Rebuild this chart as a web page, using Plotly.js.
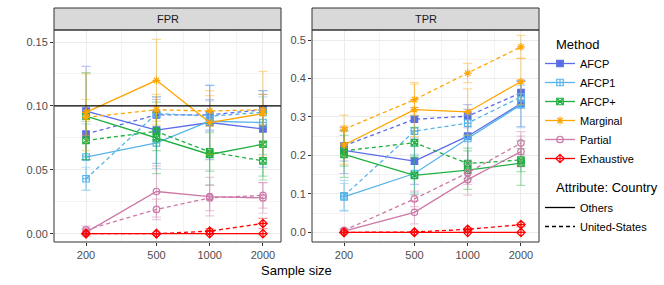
<!DOCTYPE html>
<html><head><meta charset="utf-8">
<script src="https://cdn.plot.ly/plotly-3.0.1.min.js"></script>
<style>html,body{margin:0;padding:0;background:#fff;} #chart{width:664px;height:285px;}</style>
</head><body><div id="chart"></div>
<script>
// ---- data ----
const sampleSizes = [200, 500, 1000, 2000];
const tickLabels = ['200', '500', '1000', '2000'];
const methods = ['AFCP', 'AFCP1', 'AFCP+', 'Marginal', 'Partial', 'Exhaustive'];
const groups = ['Others', 'United-States'];
const panels = ['FPR', 'TPR'];
const fprTarget = 0.1;

// FPR, Attribute = Others
const fprOthersAFCP       = [0.096, 0.081, 0.087, 0.082];
const fprOthersAFCP1      = [0.060, 0.071, 0.088, 0.087];
const fprOthersAFCPplus   = [0.092, 0.075, 0.062, 0.070];
const fprOthersMarginal   = [0.095, 0.120, 0.087, 0.094];
const fprOthersPartial    = [0.001, 0.033, 0.029, 0.028];
const fprOthersExhaustive = [0.000, 0.000, 0.000, 0.000];
// FPR, Attribute = United-States
const fprUSAFCP       = [0.078, 0.093, 0.093, 0.097];
const fprUSAFCP1      = [0.043, 0.094, 0.092, 0.095];
const fprUSAFCPplus   = [0.073, 0.080, 0.064, 0.057];
const fprUSMarginal   = [0.091, 0.097, 0.096, 0.097];
const fprUSPartial    = [0.003, 0.019, 0.028, 0.030];
const fprUSExhaustive = [0.000, 0.000, 0.002, 0.008];
// TPR, Attribute = Others
const tprOthersAFCP       = [0.213, 0.185, 0.250, 0.335];
const tprOthersAFCP1      = [0.092, 0.153, 0.244, 0.332];
const tprOthersAFCPplus   = [0.203, 0.148, 0.162, 0.180];
const tprOthersMarginal   = [0.227, 0.319, 0.313, 0.392];
const tprOthersPartial    = [0.003, 0.052, 0.137, 0.210];
const tprOthersExhaustive = [0.000, 0.000, 0.000, 0.000];
// TPR, Attribute = United-States
const tprUSAFCP       = [0.225, 0.294, 0.302, 0.363];
const tprUSAFCP1      = [0.095, 0.263, 0.284, 0.352];
const tprUSAFCPplus   = [0.212, 0.233, 0.179, 0.188];
const tprUSMarginal   = [0.268, 0.345, 0.414, 0.482];
const tprUSPartial    = [0.005, 0.087, 0.155, 0.232];
const tprUSExhaustive = [0.000, 0.001, 0.008, 0.020];

// error-bar half widths
const fprOthersErrAFCP       = [0.035, 0.026, 0.029, 0.030];
const fprOthersErrAFCP1      = [0.026, 0.020, 0.028, 0.025];
const fprOthersErrAFCPplus   = [0.034, 0.028, 0.024, 0.025];
const fprOthersErrMarginal   = [0.030, 0.032, 0.025, 0.033];
const fprOthersErrPartial    = [0.003, 0.020, 0.015, 0.012];
const fprOthersErrExhaustive = [0.000, 0.000, 0.000, 0.000];
const fprUSErrAFCP       = [0.020, 0.012, 0.012, 0.012];
const fprUSErrAFCP1      = [0.009, 0.013, 0.012, 0.012];
const fprUSErrAFCPplus   = [0.015, 0.015, 0.015, 0.015];
const fprUSErrMarginal   = [0.014, 0.012, 0.012, 0.012];
const fprUSErrPartial    = [0.003, 0.008, 0.010, 0.010];
const fprUSErrExhaustive = [0.000, 0.000, 0.002, 0.004];
const tprOthersErrAFCP       = [0.060, 0.060, 0.070, 0.060];
const tprOthersErrAFCP1      = [0.035, 0.050, 0.060, 0.060];
const tprOthersErrAFCPplus   = [0.060, 0.050, 0.050, 0.058];
const tprOthersErrMarginal   = [0.050, 0.070, 0.060, 0.060];
const tprOthersErrPartial    = [0.005, 0.030, 0.040, 0.040];
const tprOthersErrExhaustive = [0.000, 0.000, 0.000, 0.000];
const tprUSErrAFCP       = [0.040, 0.030, 0.030, 0.030];
const tprUSErrAFCP1      = [0.040, 0.040, 0.030, 0.030];
const tprUSErrAFCPplus   = [0.040, 0.040, 0.040, 0.030];
const tprUSErrMarginal   = [0.037, 0.040, 0.025, 0.030];
const tprUSErrPartial    = [0.005, 0.020, 0.030, 0.030];
const tprUSErrExhaustive = [0.000, 0.000, 0.003, 0.005];

// ---- styles ----
const methodColors = ['#5B6CE8', '#56B4E9', '#1FB03F', '#FFA500', '#CC79A7', '#FF0000'];
const methodSymbols = ['square', 'square-cross-open', 'square-x-open', 'asterisk-open', 'circle-open', 'diamond-cross-open'];
const dashUS = '4px,3px';

const values = {
  FPR: [
    [fprOthersAFCP, fprOthersAFCP1, fprOthersAFCPplus, fprOthersMarginal, fprOthersPartial, fprOthersExhaustive],
    [fprUSAFCP, fprUSAFCP1, fprUSAFCPplus, fprUSMarginal, fprUSPartial, fprUSExhaustive]
  ],
  TPR: [
    [tprOthersAFCP, tprOthersAFCP1, tprOthersAFCPplus, tprOthersMarginal, tprOthersPartial, tprOthersExhaustive],
    [tprUSAFCP, tprUSAFCP1, tprUSAFCPplus, tprUSMarginal, tprUSPartial, tprUSExhaustive]
  ]
};
const errors = {
  FPR: [
    [fprOthersErrAFCP, fprOthersErrAFCP1, fprOthersErrAFCPplus, fprOthersErrMarginal, fprOthersErrPartial, fprOthersErrExhaustive],
    [fprUSErrAFCP, fprUSErrAFCP1, fprUSErrAFCPplus, fprUSErrMarginal, fprUSErrPartial, fprUSErrExhaustive]
  ],
  TPR: [
    [tprOthersErrAFCP, tprOthersErrAFCP1, tprOthersErrAFCPplus, tprOthersErrMarginal, tprOthersErrPartial, tprOthersErrExhaustive],
    [tprUSErrAFCP, tprUSErrAFCP1, tprUSErrAFCPplus, tprUSErrMarginal, tprUSErrPartial, tprUSErrExhaustive]
  ]
};

function rgba(hex, a) {
  const r = parseInt(hex.slice(1, 3), 16), g = parseInt(hex.slice(3, 5), 16), b = parseInt(hex.slice(5, 7), 16);
  return `rgba(${r},${g},${b},${a})`;
}

const traces = [];
panels.forEach((p, pi) => {
  methods.forEach((m, mi) => {
    groups.forEach((g, gi) => {
      const c = methodColors[mi];
      traces.push({
        type: 'scatter', mode: 'lines+markers',
        x: sampleSizes, y: values[p][gi][mi],
        xaxis: pi === 0 ? 'x' : 'x2', yaxis: pi === 0 ? 'y' : 'y2',
        name: m, legend: 'legend',
        showlegend: pi === 0 && gi === 0,
        line: { color: c, width: 1.3, dash: gi === 0 ? 'solid' : dashUS },
        marker: { symbol: methodSymbols[mi], size: 6.5, color: c, line: { color: c, width: 1.2 } },
        error_y: { type: 'data', array: errors[p][gi][mi], visible: true, color: rgba(c, 0.4), thickness: 1.2, width: 4.5 },
        hoverinfo: 'x+y+name'
      });
    });
  });
});
// legend entries for the line type
groups.forEach((g, gi) => {
  traces.push({
    type: 'scatter', mode: 'lines', x: [null], y: [null], xaxis: 'x', yaxis: 'y',
    name: g, legend: 'legend2', showlegend: true,
    line: { color: '#000000', width: 1.3, dash: gi === 0 ? 'solid' : dashUS }
  });
});

const W = 664, H = 285;
const px = v => v / W, py = v => 1 - v / H;
const panelTop = 30, panelBottom = 242, stripTop = 8;
const gridColor = '#EBEBEB';
const font = 'Liberation Sans, Arial, sans-serif';

function xAxis(l, r) {
  return {
    type: 'log', domain: [px(l), px(r)], range: [2.120, 3.403],
    tickmode: 'array', tickvals: sampleSizes, ticktext: tickLabels,
    ticks: 'outside', ticklen: 3, tickcolor: '#333333', tickwidth: 1,
    tickfont: { size: 11, color: '#4D4D4D', family: font },
    showgrid: true, gridcolor: gridColor, gridwidth: 1,
    minor: { tickmode: 'array', tickvals: [316.23, 707.11, 1414.21], showgrid: true, gridcolor: gridColor, gridwidth: 0.6, ticks: '' },
    showline: false, zeroline: false, fixedrange: true
  };
}
function yAxis(range, tv, fmt, minorVals, anchor) {
  return {
    domain: [py(panelBottom), py(panelTop)], range: range, anchor: anchor,
    tickmode: 'array', tickvals: tv, tickformat: fmt,
    ticks: 'outside', ticklen: 3, tickcolor: '#333333', tickwidth: 1,
    tickfont: { size: 11, color: '#4D4D4D', family: font },
    showgrid: true, gridcolor: gridColor, gridwidth: 1,
    minor: { tickmode: 'array', tickvals: minorVals, showgrid: true, gridcolor: gridColor, gridwidth: 0.6, ticks: '' },
    showline: false, zeroline: false, fixedrange: true
  };
}

const layout = {
  width: W, height: H,
  margin: { l: 0, r: 0, t: 0, b: 0 },
  paper_bgcolor: '#FFFFFF', plot_bgcolor: '#FFFFFF',
  font: { family: font, color: '#000000' },
  xaxis: Object.assign(xAxis(54, 281), { anchor: 'y' }),
  xaxis2: Object.assign(xAxis(312, 539), { anchor: 'y2' }),
  yaxis: yAxis([-0.0065, 0.1594], [0, 0.05, 0.10, 0.15], '.2f', [0.025, 0.075, 0.125], 'x'),
  yaxis2: yAxis([-0.025, 0.526], [0, 0.1, 0.2, 0.3, 0.4, 0.5], '.1f', [0.05, 0.15, 0.25, 0.35, 0.45], 'x2'),
  shapes: [
    { type: 'rect', xref: 'x domain', yref: 'paper', x0: 0, x1: 1, y0: py(panelTop), y1: py(stripTop), fillcolor: '#D9D9D9', line: { color: '#333333', width: 1 } },
    { type: 'rect', xref: 'x2 domain', yref: 'paper', x0: 0, x1: 1, y0: py(panelTop), y1: py(stripTop), fillcolor: '#D9D9D9', line: { color: '#333333', width: 1 } },
    { type: 'line', xref: 'x domain', yref: 'y', x0: 0, x1: 1, y0: fprTarget, y1: fprTarget, line: { color: '#000000', width: 1.4 }, layer: 'above' },
    { type: 'rect', xref: 'x domain', yref: 'y domain', x0: 0, x1: 1, y0: 0, y1: 1, line: { color: '#333333', width: 1 }, fillcolor: 'rgba(0,0,0,0)', layer: 'above' },
    { type: 'rect', xref: 'x2 domain', yref: 'y2 domain', x0: 0, x1: 1, y0: 0, y1: 1, line: { color: '#333333', width: 1 }, fillcolor: 'rgba(0,0,0,0)', layer: 'above' }
  ],
  annotations: [
    { text: panels[0], xref: 'x domain', yref: 'paper', x: 0.5, y: py((panelTop + stripTop) / 2), xanchor: 'center', yanchor: 'middle', showarrow: false, font: { size: 11, color: '#1A1A1A' } },
    { text: panels[1], xref: 'x2 domain', yref: 'paper', x: 0.5, y: py((panelTop + stripTop) / 2), xanchor: 'center', yanchor: 'middle', showarrow: false, font: { size: 11, color: '#1A1A1A' } },
    { text: 'Sample size', xref: 'paper', yref: 'paper', x: px((54 + 539) / 2), y: py(270), xanchor: 'center', yanchor: 'middle', showarrow: false, font: { size: 13, color: '#000000' } },
    { text: 'Method', xref: 'paper', yref: 'paper', x: px(554), y: py(44), xanchor: 'left', yanchor: 'middle', showarrow: false, font: { size: 13, color: '#000000' } },
    { text: 'Attribute: Country', xref: 'paper', yref: 'paper', x: px(554), y: py(187), xanchor: 'left', yanchor: 'middle', showarrow: false, font: { size: 13, color: '#000000' } }
  ],
  legend: {
    x: px(540), xanchor: 'left', y: py(49), yanchor: 'top',
    font: { size: 11, color: '#000000' }, bgcolor: 'rgba(0,0,0,0)', borderwidth: 0, tracegroupgap: 0
  },
  legend2: {
    x: px(540), xanchor: 'left', y: py(193), yanchor: 'top',
    font: { size: 11, color: '#000000' }, bgcolor: 'rgba(0,0,0,0)', borderwidth: 0, tracegroupgap: 0
  }
};

Plotly.newPlot('chart', traces, layout, { displayModeBar: false, staticPlot: true });
</script>
</body></html>
